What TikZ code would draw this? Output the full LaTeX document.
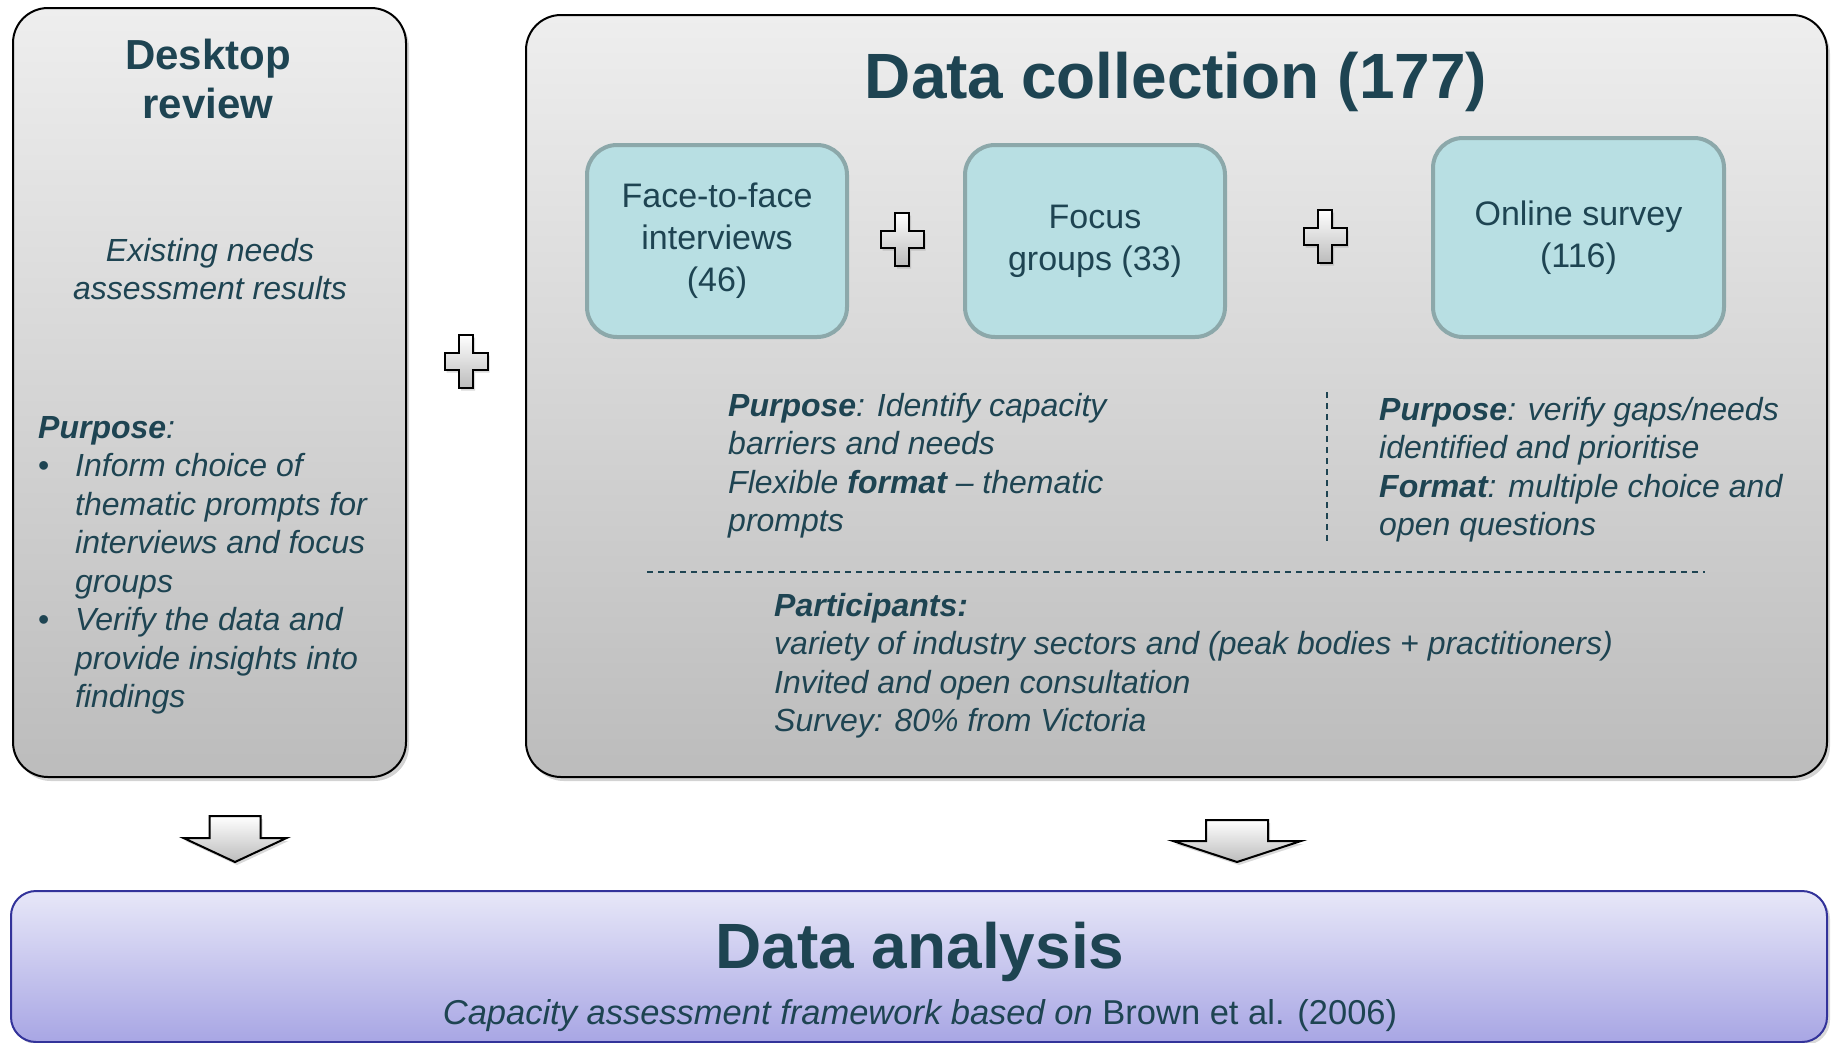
\documentclass[tikz,border=0pt]{standalone}
\usepackage{fontspec}
\setmainfont{Liberation Sans}
\usetikzlibrary{shadows,calc}
\definecolor{tealtxt}{RGB}{30,68,82}
\definecolor{cyanfill}{RGB}{184,223,227}
\definecolor{cyanline}{RGB}{140,168,170}
\definecolor{greytop}{RGB}{238,238,238}
\definecolor{greybot}{RGB}{188,188,188}
\definecolor{bluetop}{RGB}{231,231,248}
\definecolor{bluebot}{RGB}{168,166,228}
\definecolor{blueline}{RGB}{51,51,154}
\newcommand\myfs[2]{\fontsize{#1}{#2}\selectfont}
\newcommand\mybul{\makebox[37pt][l]{\upshape\textbullet}}
\newcommand\myind{\hspace*{37pt}}
\tikzset{
  greybox/.style={draw=black, line width=2pt, rounded corners=35pt, top color=greytop, bottom color=greybot,
    drop shadow={shadow xshift=3pt, shadow yshift=-4pt, opacity=0.35}, inner sep=0pt},
  cyanbox/.style={draw=cyanline, line width=4pt, rounded corners=30pt, fill=cyanfill,
    text=tealtxt, font=\myfs{34}{42}, align=center, inner sep=0pt},
  bluebox/.style={draw=blueline, line width=2pt, rounded corners=25pt, top color=bluetop, bottom color=bluebot,
    drop shadow={shadow xshift=3pt, shadow yshift=-3pt, opacity=0.3}, inner sep=0pt},
  txt/.style={text=tealtxt, font=\myfs{32}{38.5}\itshape, align=left, inner sep=0pt},
  ttl/.style={text=tealtxt, font=\myfs{64}{70}\bfseries, inner sep=0pt},
  dashline/.style={draw=tealtxt, line width=1.5pt, dash pattern=on 6pt off 5pt},
  blockarrow/.style={draw=black, line width=2pt, line join=miter, top color=white, bottom color=greybot,
    drop shadow={shadow xshift=2pt, shadow yshift=-3pt, opacity=0.3}},
  plussign/.pic={\draw[blockarrow] (-7,-26.5) -- (7,-26.5) -- (7,-8.5) -- (21.5,-8.5) -- (21.5,8.5) -- (7,8.5) -- (7,26.5) -- (-7,26.5) -- (-7,8.5) -- (-21.5,8.5) -- (-21.5,-8.5) -- (-7,-8.5) -- cycle;}
}
\begin{document}
\begin{tikzpicture}[x=1pt,y=-1pt]
\useasboundingbox (0,0) rectangle (1835,1042);

% main boxes
\node[greybox, minimum width=393pt, minimum height=769pt, anchor=north west] (desk) at (12,7) {};
\node[greybox, minimum width=1301pt, minimum height=762pt, anchor=north west] (coll) at (525,14) {};
\node[bluebox, minimum width=1816pt, minimum height=151pt, anchor=north west] (ana) at (10,890) {};

% desktop review (base anchor = last line baseline)
\node[text=tealtxt, font=\myfs{42}{49}\bfseries, align=center, inner sep=0pt, anchor=base] (dtitle) at (208,118) {Desktop\\review};
\node[txt, align=center, anchor=base] (dexist) at (210,299.5) {Existing needs\\assessment results};
\node[txt, anchor=base west] (dpurp) at (38,707.5) {\textbf{Purpose}:\\
\mybul Inform choice of\\
\myind thematic prompts for\\
\myind interviews and focus\\
\myind groups\\
\mybul Verify the data and\\
\myind provide insights into\\
\myind findings};

% data collection
\node[ttl, anchor=base] (ctitle) at (1176,98) {Data collection (177)};
\node[cyanbox, minimum width=260pt, minimum height=192pt, anchor=north west] (f2f) at (585,143) {Face-to-face\\interviews\\(46)};
\node[cyanbox, minimum width=260pt, minimum height=192pt, anchor=north west] (focus) at (963,143) {Focus\\groups (33)};
\node[cyanbox, minimum width=291pt, minimum height=199pt, anchor=north west] (online) at (1431,136) {Online survey\\(116)};

\pic at (466,361) {plussign};
\pic at (902,239) {plussign};
\pic at (1325,236) {plussign};

\node[txt, anchor=base west] (purpl) at (728,531.5) {\textbf{Purpose}: Identify capacity\\
barriers and needs\\
Flexible \textbf{format} -- thematic\\
prompts};
\node[txt, anchor=base west] (purpr) at (1379,535.5) {\textbf{Purpose}: verify gaps/needs\\
identified and prioritise\\
\textbf{Format}: multiple choice and\\
open questions};
\coordinate (vtop) at (1327,392);
\coordinate (vbot) at (1327,541);
\draw[dashline] (vtop) -- (vbot);
\coordinate (hl) at (647,572);
\coordinate (hr) at (1705,572);
\draw[dashline] (hl) -- (hr);
\node[txt, anchor=base west] (parts) at (774,731.5) {\textbf{Participants:}\\
variety of industry sectors and (peak bodies + practitioners)\\
Invited and open consultation\\
Survey: 80\% from Victoria};

% arrows
\draw[blockarrow] (209.5,816) -- (260.5,816) -- (260.5,838) -- (286.5,838) -- (235,862) -- (183.5,838) -- (209.5,838) -- cycle;
\draw[blockarrow] (1206,820) -- (1268,820) -- (1268,841) -- (1301,841) -- (1237,862) -- (1173,841) -- (1206,841) -- cycle;

% data analysis
\node[ttl, anchor=base] (atitle) at (920,968) {Data analysis};
\node[text=tealtxt, font=\myfs{34.5}{40}, inner sep=0pt, anchor=base] (asub) at (920,1024) {\textit{Capacity assessment framework based on} Brown et al. (2006)};
\end{tikzpicture}
\end{document}
